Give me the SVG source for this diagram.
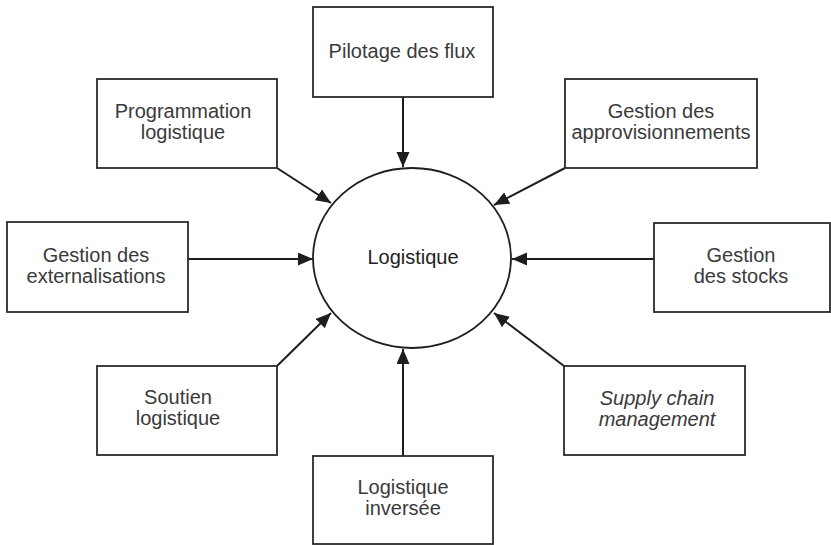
<svg xmlns="http://www.w3.org/2000/svg" width="831" height="545" viewBox="0 0 831 545">
<style>
.box{fill:#fff;stroke:#2a2a2a;stroke-width:1.8}
.t{font-family:"Liberation Sans",Arial,sans-serif;font-size:20px;fill:#3a3a3a;text-anchor:middle}
.c{stroke:#1e1e1e;stroke-width:2;fill:none;marker-end:url(#ah)}
</style>
<defs>
<marker id="ah" markerUnits="userSpaceOnUse" markerWidth="16" markerHeight="14" refX="15" refY="6.5" orient="auto">
<path d="M0,0 L15,6.5 L0,13 z" fill="#1e1e1e"/>
</marker>
</defs>
<rect width="831" height="545" fill="#fff"/>
<g id="connectors">
<line class="c" x1="403" y1="97" x2="403" y2="167"/>
<line class="c" x1="277" y1="168" x2="331" y2="203"/>
<line class="c" x1="565" y1="168" x2="494" y2="205"/>
<line class="c" x1="188" y1="259" x2="313" y2="259"/>
<line class="c" x1="654" y1="259" x2="512" y2="259"/>
<line class="c" x1="277" y1="366" x2="331" y2="313"/>
<line class="c" x1="564" y1="366" x2="494" y2="313"/>
<line class="c" x1="403" y1="456" x2="403" y2="349"/>
</g>
<g id="center">
<ellipse cx="412" cy="258" rx="99" ry="90" fill="none" stroke="#1e1e1e" stroke-width="1.8"/>
<text class="t" x="413" y="264" style="fill:#222">Logistique</text>
</g>
<g id="pilotage">
<rect class="box" x="313" y="7" width="180" height="90"/>
<text class="t" x="402" y="58">Pilotage des flux</text>
</g>
<g id="programmation">
<rect class="box" x="97" y="79" width="180" height="89"/>
<text class="t" x="183" y="118">Programmation</text>
<text class="t" x="183" y="139">logistique</text>
</g>
<g id="approvisionnements">
<rect class="box" x="565" y="79" width="192" height="89"/>
<text class="t" x="661" y="118">Gestion des</text>
<text class="t" x="661" y="139">approvisionnements</text>
</g>
<g id="externalisations">
<rect class="box" x="7" y="222" width="181" height="90"/>
<text class="t" x="96" y="262">Gestion des</text>
<text class="t" x="96" y="283">externalisations</text>
</g>
<g id="stocks">
<rect class="box" x="654" y="223" width="176" height="89"/>
<text class="t" x="741" y="262">Gestion</text>
<text class="t" x="741" y="283">des stocks</text>
</g>
<g id="soutien">
<rect class="box" x="97" y="366" width="180" height="89"/>
<text class="t" x="178" y="404">Soutien</text>
<text class="t" x="178" y="425">logistique</text>
</g>
<g id="supply">
<rect class="box" x="564" y="366" width="181" height="89"/>
<text class="t" x="657" y="405" font-style="italic">Supply chain</text>
<text class="t" x="657" y="426" font-style="italic">management</text>
</g>
<g id="inversee">
<rect class="box" x="313" y="456" width="180" height="88"/>
<text class="t" x="403" y="494">Logistique</text>
<text class="t" x="403" y="515">inversée</text>
</g>
</svg>
